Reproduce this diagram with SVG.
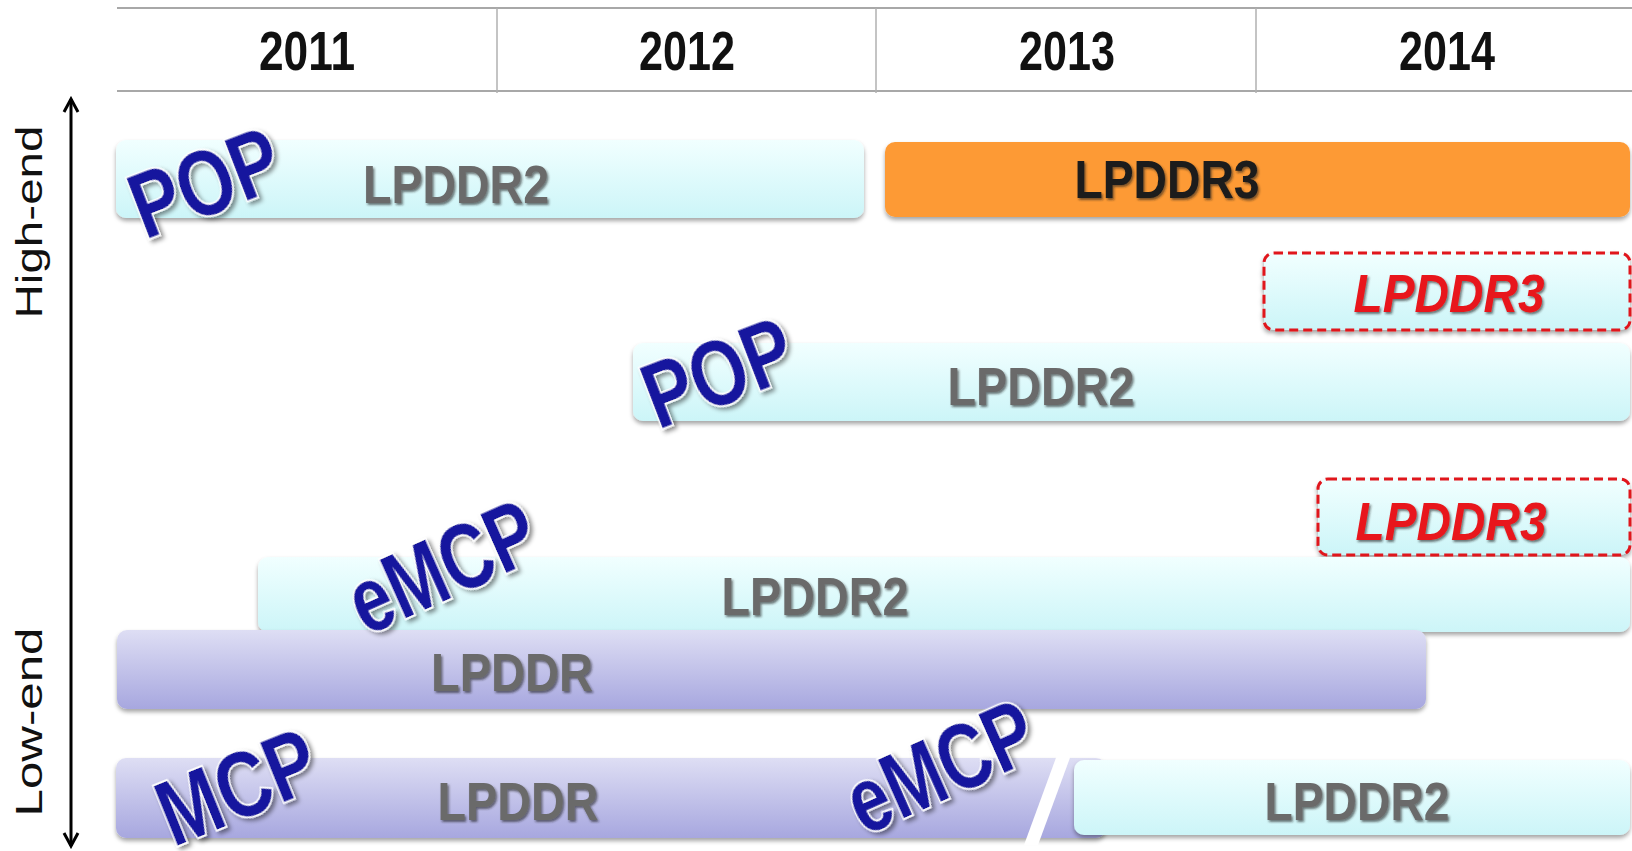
<svg xmlns="http://www.w3.org/2000/svg" width="1632" height="851" viewBox="0 0 1632 851">
<defs>
<style>
.hdr{stroke:#a8a8a8;stroke-width:2;fill:none}
.div{stroke:#b0b0b0;stroke-width:1.5}
.year{font-family:"Liberation Sans",Arial,sans-serif;font-weight:bold;font-size:55px;fill:#111;text-anchor:middle}
.axis{font-family:"Liberation Sans",Arial,sans-serif;font-size:37px;fill:#111;text-anchor:middle}
.gray{font-family:"Liberation Sans",Arial,sans-serif;font-weight:bold;font-size:54px;fill:#6a6a6a;text-anchor:middle;filter:url(#ts)}
.dark{font-family:"Liberation Sans",Arial,sans-serif;font-weight:bold;font-size:54px;fill:#1a1a1a;text-anchor:middle;filter:url(#ts)}
.red{font-family:"Liberation Sans",Arial,sans-serif;font-weight:bold;font-style:italic;font-size:53px;fill:#e8141a;text-anchor:middle;filter:url(#ts)}
.blue{font-family:"Liberation Sans",Arial,sans-serif;font-weight:bold;font-size:78px;fill:#16169e;stroke:#ffffff;stroke-width:3;paint-order:stroke;text-anchor:middle;filter:url(#bs)}
.cyan{fill:url(#gc);filter:url(#sh)}
.purple{fill:url(#gp);filter:url(#sh)}
.orange{fill:#fd9a36;filter:url(#sh)}
.dash{fill:url(#gc);stroke:#e0141c;stroke-width:3;stroke-dasharray:9 5;filter:url(#sh)}
</style>
<linearGradient id="gc" x1="0" y1="0" x2="0" y2="1">
<stop offset="0" stop-color="#f1ffff"/>
<stop offset="1" stop-color="#ccf5f8"/>
</linearGradient>
<linearGradient id="gp" x1="0" y1="0" x2="0" y2="1">
<stop offset="0" stop-color="#dedef4"/>
<stop offset="1" stop-color="#a7a7df"/>
</linearGradient>
<filter id="sh" x="-5%" y="-20%" width="110%" height="150%">
<feDropShadow dx="0" dy="3" stdDeviation="2" flood-color="#000" flood-opacity="0.35"/>
</filter>
<filter id="ts" x="-10%" y="-20%" width="120%" height="150%">
<feDropShadow dx="1.5" dy="2" stdDeviation="1" flood-color="#222" flood-opacity="0.6"/>
</filter>
<filter id="bs" x="-20%" y="-30%" width="140%" height="170%">
<feDropShadow dx="2" dy="3" stdDeviation="2" flood-color="#000" flood-opacity="0.45"/>
</filter>
<marker id="ah" viewBox="0 0 18 18" refX="15" refY="9" markerWidth="18" markerHeight="18" markerUnits="userSpaceOnUse" orient="auto-start-reverse">
<path d="M2,2 L15,9 L2,16" fill="none" stroke="#000" stroke-width="3"/>
</marker>
</defs>
<rect width="1632" height="851" fill="#ffffff"/>

<g id="header">
<line class="hdr" x1="117" y1="8" x2="1632" y2="8"/>
<line class="hdr" x1="117" y1="91" x2="1632" y2="91"/>
<line class="div" x1="497" y1="8" x2="497" y2="93"/>
<line class="div" x1="876" y1="8" x2="876" y2="93"/>
<line class="div" x1="1256" y1="8" x2="1256" y2="93"/>
<text class="year" x="307" y="70" textLength="96" lengthAdjust="spacingAndGlyphs">2011</text>
<text class="year" x="687" y="70" textLength="96" lengthAdjust="spacingAndGlyphs">2012</text>
<text class="year" x="1067" y="70" textLength="96" lengthAdjust="spacingAndGlyphs">2013</text>
<text class="year" x="1447" y="70" textLength="96" lengthAdjust="spacingAndGlyphs">2014</text>
</g>

<g id="connectors">
<line x1="71" y1="846" x2="71" y2="99" stroke="#000" stroke-width="3" marker-start="url(#ah)" marker-end="url(#ah)"/>
</g>

<g id="axis-labels">
<text class="axis" transform="translate(42,222) rotate(-90)" textLength="193" lengthAdjust="spacingAndGlyphs">High-end</text>
<text class="axis" transform="translate(42,722) rotate(-90)" textLength="189" lengthAdjust="spacingAndGlyphs">Low-end</text>
</g>

<g id="pop-lpddr2-top">
<rect class="cyan" x="116" y="140" width="748" height="78" rx="10"/>
<text class="gray" x="456" y="203" textLength="186" lengthAdjust="spacingAndGlyphs">LPDDR2</text>
</g>

<g id="lpddr3-top">
<rect class="orange" x="885" y="142" width="745" height="75" rx="10"/>
<text class="dark" x="1167" y="198" textLength="185" lengthAdjust="spacingAndGlyphs">LPDDR3</text>
</g>

<g id="lpddr3-planned-1">
<rect class="dash" x="1264" y="253" width="366" height="77" rx="10"/>
<text class="red" x="1449" y="312" textLength="191" lengthAdjust="spacingAndGlyphs">LPDDR3</text>
</g>

<g id="pop-lpddr2-mid">
<rect class="cyan" x="633" y="343" width="997" height="78" rx="10"/>
<text class="gray" x="1041" y="405" textLength="187" lengthAdjust="spacingAndGlyphs">LPDDR2</text>
</g>

<g id="lpddr3-planned-2">
<rect class="dash" x="1318" y="479" width="312" height="76" rx="10"/>
<text class="red" x="1451" y="540" textLength="191" lengthAdjust="spacingAndGlyphs">LPDDR3</text>
</g>

<g id="emcp-lpddr2">
<rect class="cyan" x="258" y="557" width="1372" height="75" rx="10"/>
<text class="gray" x="815" y="615" textLength="187" lengthAdjust="spacingAndGlyphs">LPDDR2</text>
</g>

<g id="lpddr-mid">
<rect class="purple" x="117" y="630" width="1309" height="79" rx="10"/>
<text class="gray" x="512" y="691" textLength="162" lengthAdjust="spacingAndGlyphs">LPDDR</text>
</g>

<g id="mcp-lpddr-bottom">
<rect class="purple" x="116" y="758" width="990" height="80" rx="10"/>
<polygon points="1057,755 1071,755 1038,845 1024,845" fill="#ffffff"/>
<text class="gray" x="518" y="820" textLength="161" lengthAdjust="spacingAndGlyphs">LPDDR</text>
</g>

<g id="emcp-lpddr2-bottom">
<rect class="cyan" x="1074" y="760" width="556" height="75" rx="10"/>
<text class="gray" x="1357" y="820" textLength="185" lengthAdjust="spacingAndGlyphs">LPDDR2</text>
</g>

<g id="package-labels">
<text class="blue" transform="translate(205,182) rotate(-21) scale(1.06,1.18)" y="28" textLength="145" lengthAdjust="spacingAndGlyphs">POP</text>
<text class="blue" transform="translate(718,372) rotate(-21) scale(1.06,1.18)" y="28" textLength="145" lengthAdjust="spacingAndGlyphs">POP</text>
<text class="blue" transform="translate(442,566) rotate(-24) scale(1.06,1.18)" y="28" textLength="186" lengthAdjust="spacingAndGlyphs">eMCP</text>
<text class="blue" transform="translate(237,786) rotate(-22) scale(1.06,1.18)" y="28" textLength="155" lengthAdjust="spacingAndGlyphs">MCP</text>
<text class="blue" transform="translate(940,766) rotate(-24) scale(1.06,1.18)" y="28" textLength="186" lengthAdjust="spacingAndGlyphs">eMCP</text>
</g>
</svg>
